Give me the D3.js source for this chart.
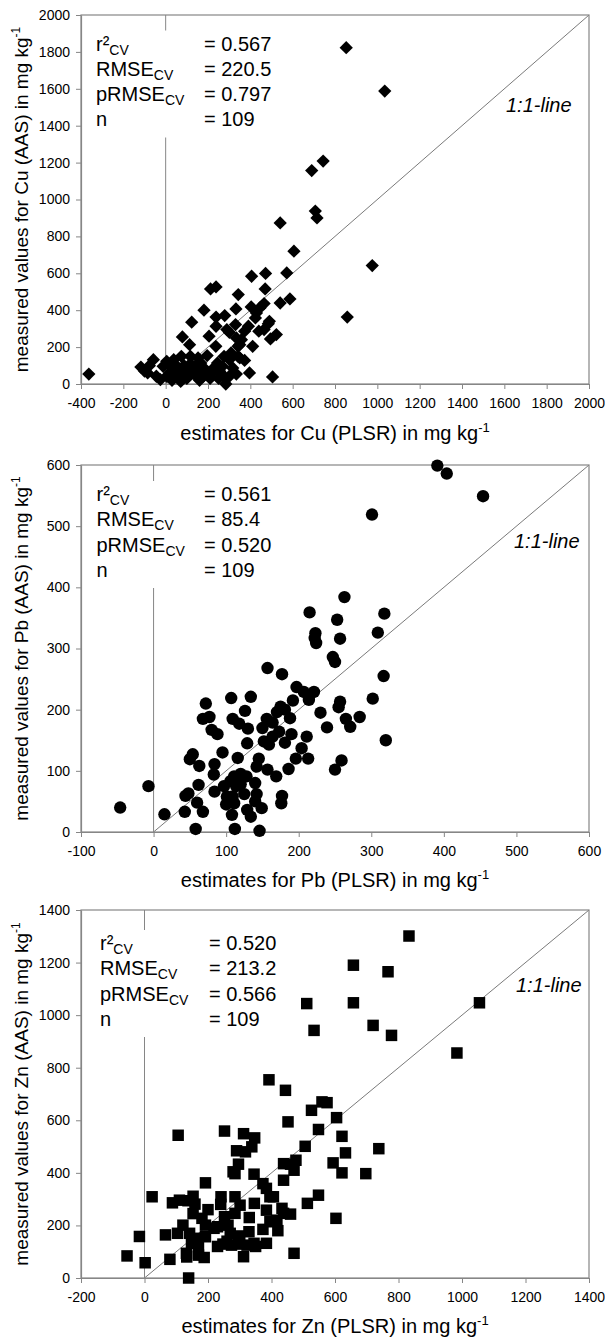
<!DOCTYPE html>
<html>
<head>
<meta charset="utf-8">
<script src="https://cdn.jsdelivr.net/npm/d3@7"></script>
<style>
  body { margin: 0; background: #fff; }
  svg { display: block; }
  text { font-family: "Liberation Sans", Arial, sans-serif; fill: #000; }
</style>
</head>
<body>
<svg id="chart" width="605" height="1338"></svg>
<script>
// ---- Cu: PLSR estimates vs. AAS measurements (mg/kg) ----
const cuEstimate = [853,1035,744,690,707,715,541,606,976,406,
  472,572,212,238,343,470,181,332,404,429,
  465,445,541,587,858,123,238,279,238,330,
  373,289,485,440,79,113,205,301,334,350,
  411,237,523,495,309,276,196,373,342,153,
  117,74,38,5,-58,-117,-363,-85,-44,-25,
  5,38,54,87,117,140,166,186,153,197,
  227,255,268,284,334,396,505,317,87,62,
  30,18,104,128,219,245,301,350,342,358,
  391,424,490,465,-12,-77,145,178,71,46,
  268,301,100,160,210,60,250,20,-100];
const cuMeasured = [1823,1588,1208,1157,937,900,873,720,642,584,
  599,602,515,526,485,515,400,407,418,385,
  436,412,439,461,363,335,363,371,313,322,
  286,295,327,286,255,213,259,280,250,213,
  204,204,268,244,168,150,154,128,150,141,
  150,150,132,123,132,92,54,60,42,24,
  42,60,96,99,110,96,114,81,60,51,
  87,69,96,0,54,60,38,87,60,33,
  20,60,78,60,60,114,132,141,204,240,
  313,358,340,295,96,99,42,42,14,51,
  51,42,30,20,30,80,30,100,70];

// ---- Pb ----
const pbEstimate = [391,404,454,301,263,215,253,318,223,222,
  224,257,309,247,250,157,177,317,72,68,
  77,107,134,80,88,109,118,126,130,129,
  156,164,170,181,188,192,197,207,214,221,
  152,159,164,173,181,239,257,255,265,271,
  284,302,320,211,204,196,213,259,250,186,
  169,157,142,116,54,50,63,84,83,62,
  48,44,43,60,68,84,101,109,111,106,
  114,120,111,108,128,140,142,140,129,134,
  149,177,176,97,15,-7,-46,58,112,146,
  120,100,150,230,125,190,95,175,145];
const pbMeasured = [599,586,549,519,384,359,347,357,325,317,
  309,316,326,286,278,268,258,255,210,185,
  188,219,221,167,160,185,177,198,169,145,
  185,179,196,200,186,215,237,229,216,229,
  148,143,156,164,146,171,213,204,185,172,
  188,218,150,156,137,120,120,117,102,103,
  91,102,107,121,127,119,108,111,94,77,
  63,59,33,48,33,66,58,58,91,83,
  75,78,47,28,91,80,62,50,36,25,
  39,59,47,75,29,75,40,5,5,2,
  95,45,170,195,62,160,130,205,120];

// ---- Zn ----
const znEstimate = [833,658,767,511,658,1055,534,720,778,984,
  392,444,526,559,575,605,452,548,106,252,
  312,347,338,318,290,296,279,285,345,506,
  622,633,477,460,438,471,438,594,622,697,
  738,192,373,384,395,406,346,384,433,460,
  513,548,603,24,88,110,137,153,159,241,
  285,301,153,181,192,230,252,263,285,121,
  104,142,148,132,66,-16,192,247,274,296,
  323,329,345,384,373,395,417,438,312,471,
  -55,2,80,170,188,159,219,139,133,260,
  300,350,200,240,330,420,170,270,230];
const znMeasured = [1301,1190,1165,1044,1047,1047,942,961,923,856,
  754,714,638,670,667,610,594,565,543,559,
  549,533,499,480,484,433,404,397,395,501,
  539,476,448,433,435,410,372,438,400,397,
  492,362,359,341,309,309,284,258,265,243,
  284,315,227,309,286,296,294,311,281,309,
  309,277,245,227,201,195,233,201,246,201,
  170,170,132,94,164,158,157,129,125,129,
  125,176,132,132,185,214,220,246,81,94,
  84,58,71,87,78,151,189,0,80,140,
  160,120,260,280,230,180,120,170,120];

// ---- axis ticks ----
const cuTicksX = [-400,-200,0,200,400,600,800,1000,1200,1400,1600,1800,2000];
const cuTicksY = [0,200,400,600,800,1000,1200,1400,1600,1800,2000];
const pbTicksX = [-100,0,100,200,300,400,500,600];
const pbTicksY = [0,100,200,300,400,500,600];
const znTicksX = [-200,0,200,400,600,800,1000,1200,1400];
const znTicksY = [0,200,400,600,800,1000,1200,1400];

// ---- cross-validation statistics ----
const statNames = [["r\u00b2", "CV"], ["RMSE", "CV"], ["pRMSE", "CV"], ["n", ""]];
const cuStats = ["0.567", "220.5", "0.797", "109"];
const pbStats = ["0.561", "85.4", "0.520", "109"];
const znStats = ["0.520", "213.2", "0.566", "109"];

const panels = [
  { el: "Cu", est: cuEstimate, meas: cuMeasured, xTicks: cuTicksX, yTicks: cuTicksY,
    top: 15, bottom: 384, marker: "diamond", stats: cuStats,
    statY: 50.5, statX: 96, eqX: 204, lineLabel: [506, 112], titleY: 440 },
  { el: "Pb", est: pbEstimate, meas: pbMeasured, xTicks: pbTicksX, yTicks: pbTicksY,
    top: 465, bottom: 832, marker: "circle", stats: pbStats,
    statY: 501, statX: 96.5, eqX: 204, lineLabel: [514, 548], titleY: 887 },
  { el: "Zn", est: znEstimate, meas: znMeasured, xTicks: znTicksX, yTicks: znTicksY,
    top: 910, bottom: 1278, marker: "square", stats: znStats,
    statY: 950, statX: 100, eqX: 209, lineLabel: [516, 992], titleY: 1333 }
];

const LEFT = 81, RIGHT = 589;
const GRAY = "#868686";
const svg = d3.select("#chart");

const symbols = {
  diamond: d3.symbol().type(d3.symbolSquare).size(88),
  circle: d3.symbol().type(d3.symbolCircle).size(Math.PI * 6.2 * 6.2),
  square: d3.symbol().type(d3.symbolSquare).size(132)
};

panels.forEach(p => {
  const xDom = [p.xTicks[0], p.xTicks[p.xTicks.length - 1]];
  const yDom = [p.yTicks[0], p.yTicks[p.yTicks.length - 1]];
  const x = d3.scaleLinear().domain(xDom).range([LEFT, RIGHT]);
  const y = d3.scaleLinear().domain(yDom).range([p.bottom, p.top]);
  const g = svg.append("g");

  // vertical reference line at estimate = 0
  g.append("line")
    .attr("x1", x(0)).attr("x2", x(0))
    .attr("y1", y(yDom[1])).attr("y2", y(0))
    .attr("stroke", GRAY).attr("stroke-width", 1);

  // 1:1 line
  const m = Math.min(xDom[1], yDom[1]);
  g.append("line")
    .attr("x1", x(0)).attr("y1", y(0))
    .attr("x2", x(m)).attr("y2", y(m))
    .attr("stroke", "#7a7a7a").attr("stroke-width", 1);

  g.append("text")
    .attr("x", p.lineLabel[0]).attr("y", p.lineLabel[1])
    .attr("font-size", 20).attr("font-style", "italic")
    .text("1:1-line");

  // statistics block on a white background
  g.append("rect")
    .attr("x", p.statX - 6).attr("y", p.statY - 20)
    .attr("width", 190).attr("height", 107)
    .attr("fill", "#fff");
  statNames.forEach((nm, i) => {
    const t = g.append("text")
      .attr("x", p.statX).attr("y", p.statY + i * 25.3)
      .attr("font-size", 20);
    t.append("tspan").text(nm[0]);
    if (nm[1]) t.append("tspan").attr("font-size", 14).attr("dy", 4).text(nm[1]);
    g.append("text")
      .attr("x", p.eqX).attr("y", p.statY + i * 25.3)
      .attr("font-size", 20)
      .text("= " + p.stats[i]);
  });

  // plot frame
  g.append("rect")
    .attr("x", LEFT).attr("y", p.top)
    .attr("width", RIGHT - LEFT).attr("height", p.bottom - p.top)
    .attr("fill", "none").attr("stroke", GRAY).attr("stroke-width", 1.2);

  // axes
  const fmt = d => String(d);
  const ax = g.append("g").attr("transform", `translate(0,${p.bottom})`)
    .call(d3.axisBottom(x).tickValues(p.xTicks).tickFormat(fmt).tickSize(5).tickPadding(9).tickSizeOuter(0));
  const ay = g.append("g").attr("transform", `translate(${LEFT},0)`)
    .call(d3.axisLeft(y).tickValues(p.yTicks).tickFormat(fmt).tickSize(5).tickPadding(6).tickSizeOuter(0));
  [ax, ay].forEach(a => {
    a.select(".domain").attr("stroke", GRAY).attr("stroke-width", 1.2);
    a.selectAll(".tick line").attr("stroke", GRAY);
    a.selectAll(".tick text")
      .attr("font-family", "'Liberation Sans', Arial, sans-serif")
      .attr("font-size", 14).attr("fill", "#000");
  });

  // data points
  const pts = p.est.map((e, i) => ({ e: e, m: p.meas[i] }));
  g.append("g").selectAll("path").data(pts).join("path")
    .attr("d", symbols[p.marker])
    .attr("transform", d => `translate(${x(d.e)},${y(d.m)})` + (p.marker === "diamond" ? " rotate(45)" : ""))
    .attr("fill", "#000");

  // axis titles
  const xt = g.append("text")
    .attr("x", (LEFT + RIGHT) / 2).attr("y", p.titleY)
    .attr("text-anchor", "middle").attr("font-size", 20);
  xt.append("tspan").text(`estimates for ${p.el} (PLSR) in mg kg`);
  xt.append("tspan").attr("font-size", 13).attr("dy", -8).text("-1");

  const cy = (p.top + p.bottom) / 2;
  const yt = g.append("text")
    .attr("transform", `translate(28,${cy}) rotate(-90)`)
    .attr("text-anchor", "middle").attr("font-size", 19);
  yt.append("tspan").text(`measured values for ${p.el} (AAS) in mg kg`);
  yt.append("tspan").attr("font-size", 12).attr("dy", -8).text("-1");
});
</script>
</body>
</html>
